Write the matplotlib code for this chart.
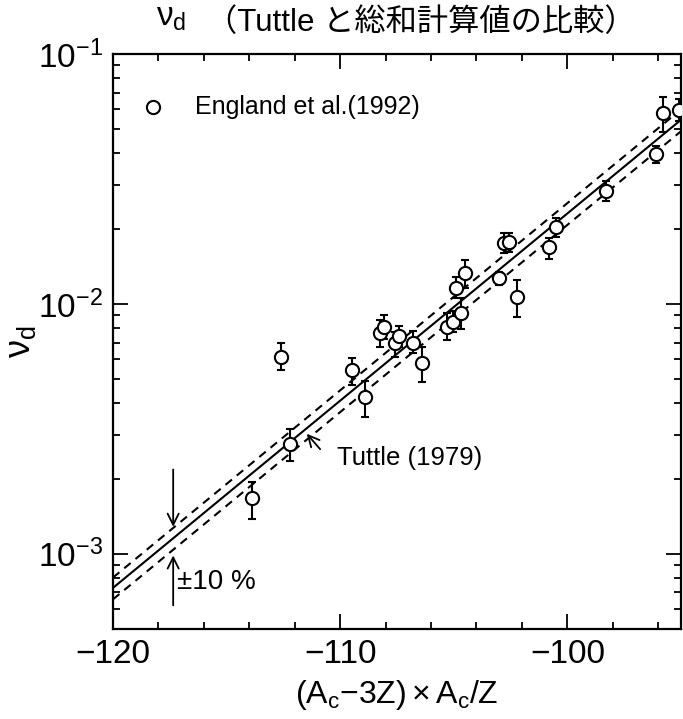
import numpy as np
import matplotlib
matplotlib.use("Agg")
import matplotlib.pyplot as plt

plt.rcParams["font.family"] = ["Liberation Sans", "Noto Sans CJK JP", "DejaVu Sans"]
plt.rcParams["mathtext.fontset"] = "custom"
plt.rcParams["mathtext.rm"] = "Liberation Sans"
plt.rcParams["mathtext.it"] = "Liberation Sans"
plt.rcParams["mathtext.bf"] = "Liberation Sans:bold"

# England et al. (1992) data: x = (Ac-3Z)*Ac/Z, nu_d with error-bar limits
x_val = [-113.9, -112.6, -112.2, -109.5, -108.9, -108.25, -108.05, -107.6, -107.4,
         -106.8, -106.4, -105.3, -105.05, -104.9, -104.7, -104.5, -103.0, -102.8,
         -102.55, -102.2, -100.8, -100.5, -98.3, -96.1, -95.8, -95.1]
nu_d = [0.00167, 0.00615, 0.00275, 0.00542, 0.00424, 0.00763, 0.00810, 0.00697, 0.00745,
        0.00700, 0.00582, 0.00811, 0.00850, 0.01155, 0.00923, 0.01325, 0.01265, 0.01750,
        0.01765, 0.01063, 0.01686, 0.02030, 0.02830, 0.03990, 0.05800, 0.05970]
nu_lo = [0.00138, 0.00544, 0.00236, 0.00474, 0.00354, 0.00675, 0.00725, 0.00612, 0.00670,
         0.00635, 0.00489, 0.00718, 0.00770, 0.01054, 0.00792, 0.01155, 0.01190, 0.01600,
         0.01620, 0.00885, 0.01510, 0.01850, 0.02590, 0.03650, 0.04890, 0.05400]
nu_hi = [0.00193, 0.00696, 0.00315, 0.00606, 0.00492, 0.00860, 0.00904, 0.00775, 0.00817,
         0.00780, 0.00675, 0.00918, 0.00940, 0.01285, 0.01054, 0.01500, 0.01340, 0.01920,
         0.01920, 0.01247, 0.01832, 0.02210, 0.03090, 0.04280, 0.06700, 0.06600]

# Tuttle (1979) systematics line, end points
tuttle_x = [-120, -95]
tuttle_y = [7.3e-4, 0.0545]
band = 0.10  # +-10 %

x_ticks = [-120, -110, -100]

fig = plt.figure(figsize=(6.83, 7.19), dpi=100)
ax = fig.add_axes([0.1654, 0.1252, 0.8316, 0.7997])

nu = np.array(nu_d)
yerr = [nu - np.array(nu_lo), np.array(nu_hi) - nu]
ax.errorbar(x_val, nu_d, yerr=yerr, fmt="o", mfc="white", mec="black", mew=1.5,
            ms=9.5, ecolor="black", elinewidth=1.5, capsize=3, capthick=1.5, zorder=3)

ty = np.array(tuttle_y)
ax.plot(tuttle_x, ty, color="black", lw=1.5, zorder=2)
ax.plot(tuttle_x, ty * (1 + band), color="black", lw=1.5, ls=(0, (4, 3)), zorder=2)
ax.plot(tuttle_x, ty * (1 - band), color="black", lw=1.5, ls=(0, (4, 3)), zorder=2)

# legend entry
ax.plot([0.07], [0.907], "o", mfc="white", mec="black", mew=1.5, ms=9.5,
        transform=ax.transAxes, clip_on=False)
ax.text(0.145, 0.907, "England et al.(1992)", transform=ax.transAxes,
        fontsize=18, va="center", ha="left")

# annotations
ax.annotate("", xy=(-111.55, 0.00308), xytext=(-110.8, 0.00257),
            arrowprops=dict(arrowstyle="->", lw=1.3, color="black", mutation_scale=20))
ax.text(-110.15, 0.00241, "Tuttle (1979)", fontsize=18.5, va="center", ha="left")
ax.annotate("", xy=(-117.35, 0.00125), xytext=(-117.35, 0.00223),
            arrowprops=dict(arrowstyle="->", lw=1.3, color="black", mutation_scale=20))
ax.annotate("", xy=(-117.35, 0.00101), xytext=(-117.35, 6.06e-4),
            arrowprops=dict(arrowstyle="->", lw=1.3, color="black", mutation_scale=20))
ax.text(-117.2, 7.74e-4, "±10 %", fontsize=20, va="center", ha="left")

ax.set_yscale("log")
ax.set_xlim(-120, -95)
ax.set_ylim(5.0e-4, 1e-1)
ax.set_xticks(x_ticks)
ax.set_xticks(np.arange(-120, -94, 2), minor=True)
ax.tick_params(which="both", direction="in", top=True, right=True, labelsize=24, width=1.3)
ax.tick_params(which="major", length=11, pad=7)
ax.tick_params(which="minor", length=5)
for s in ax.spines.values():
    s.set_linewidth(1.6)

ax.set_xlabel(r"$(\mathrm{A_c}{-}3\mathrm{Z})\times\mathrm{A_c/Z}$", fontsize=23, labelpad=6)
ax.set_ylabel(r"$\nu_{\mathrm{d}}$", fontsize=26, labelpad=0)

fig.text(0.228, 0.975, r"$\nu_{\mathrm{d}}$", fontsize=24, va="center", ha="left")
fig.text(0.302, 0.968, "（Tuttle と総和計算値の比較）", fontsize=22.5, va="center", ha="left")

fig.savefig("out.png", dpi=100)
